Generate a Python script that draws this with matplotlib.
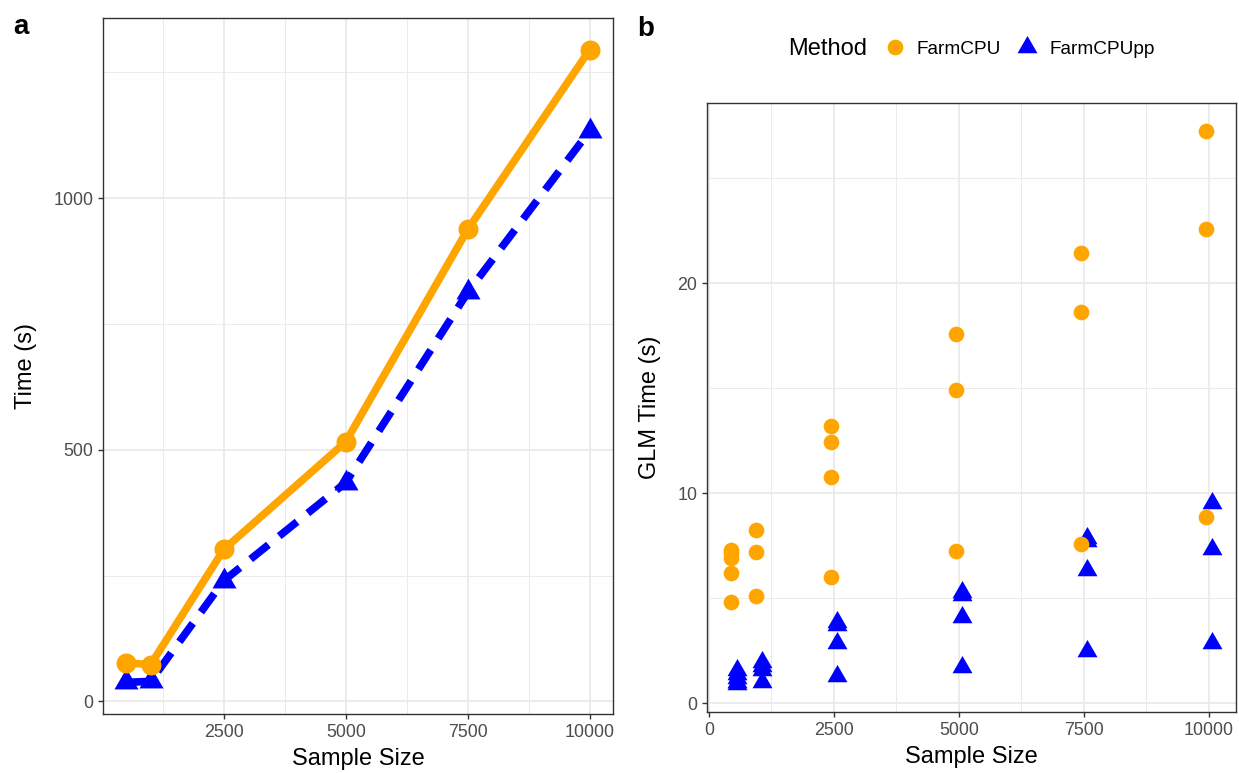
import matplotlib
matplotlib.use('Agg')
import matplotlib.pyplot as plt
from matplotlib.ticker import FixedLocator
from matplotlib.lines import Line2D

plt.rcParams['font.family'] = ['Liberation Sans', 'DejaVu Sans']

# ---------------- data ----------------
methods = ['FarmCPU', 'FarmCPUpp']
method_colors = ['#FFA500', '#0000FF']

# panel a: total run time
sample_sizes = [500, 1000, 2500, 5000, 7500, 10000]
time_farmcpu = [77, 73, 302, 516, 938, 1295]
time_farmcpupp = [38, 40, 240, 435, 813, 1134]

# panel b: GLM time (replicates per sample size)
glm_farmcpu = [
    [7.3, 7.15, 6.9, 6.2, 4.8],
    [8.25, 7.2, 5.1],
    [13.2, 12.45, 10.75, 6.0],
    [17.55, 14.9, 7.25],
    [21.45, 18.6, 7.6],
    [27.25, 22.55, 8.85],
]
glm_farmcpupp = [
    [1.6, 1.4, 1.2, 1.0, 0.9],
    [1.95, 1.75, 1.6, 1.0],
    [3.85, 3.7, 2.86, 1.3],
    [5.3, 5.15, 4.11, 1.74],
    [7.85, 7.7, 6.35, 2.5],
    [9.55, 7.35, 2.88],
]

x_ticks = [0, 2500, 5000, 7500, 10000]
x_minor = [1250, 3750, 6250, 8750]
a_yticks = [0, 500, 1000]
a_yminor = [250, 750, 1250]
b_yticks = [0, 10, 20]
b_yminor = [5, 15, 25]

# ---------------- style ----------------
W, H = 1239, 773
fig = plt.figure(figsize=(W / 100, H / 100), dpi=100)

TRI = [(0, 1), (-0.866, -0.5), (0.866, -0.5), (0, 1)]
GRID = '#EBEBEB'
BORDER = '#333333'
TICKC = '#4D4D4D'


def px_axes(l, r, t, b):
    return fig.add_axes([l / W, 1 - b / H, (r - l) / W, (b - t) / H])


def style(ax, yt, ym):
    ax.xaxis.set_major_locator(FixedLocator(x_ticks))
    ax.xaxis.set_minor_locator(FixedLocator(x_minor))
    ax.yaxis.set_major_locator(FixedLocator(yt))
    ax.yaxis.set_minor_locator(FixedLocator(ym))
    ax.grid(which='major', color=GRID, linewidth=1.3, zorder=0)
    ax.grid(which='minor', color=GRID, linewidth=0.7, zorder=0)
    ax.set_axisbelow(True)
    for s in ax.spines.values():
        s.set_color(BORDER)
        s.set_linewidth(1.0)
    ax.tick_params(which='major', length=3.6, width=1.0, color=BORDER,
                   labelsize=12.9, labelcolor=TICKC, pad=3.5)
    ax.tick_params(which='minor', length=0)


# ---------------- panel a ----------------
axa = px_axes(103, 613, 18, 714)
axa.plot(sample_sizes, time_farmcpupp, color=method_colors[1], linewidth=5.5,
         dashes=(3.0, 1.8), dash_capstyle='butt', zorder=2)
axa.plot(sample_sizes, time_farmcpu, color=method_colors[0], linewidth=5.5,
         solid_capstyle='butt', zorder=3)
axa.plot(sample_sizes, time_farmcpupp, linestyle='none', marker=TRI,
         markersize=20, color=method_colors[1], markeredgewidth=0, zorder=4)
axa.plot(sample_sizes, time_farmcpu, linestyle='none', marker='o',
         markersize=14.4, color=method_colors[0], markeredgewidth=0, zorder=5)
style(axa, a_yticks, a_yminor)
axa.set_xlabel('Sample Size', fontsize=17, labelpad=5)
axa.set_ylabel('Time (s)', fontsize=17, labelpad=11.5)

# ---------------- panel b ----------------
axb = px_axes(707, 1236, 103, 712)
offsets = [-58, 65]
for m_i, (vals, off) in enumerate([(glm_farmcpupp, offsets[1]), (glm_farmcpu, offsets[0])]):
    xs, ys = [], []
    for s, grp in zip(sample_sizes, vals):
        for v in grp:
            xs.append(s + off)
            ys.append(v)
    if m_i == 0:
        axb.plot(xs, ys, linestyle='none', marker=TRI, markersize=16.6,
                 color=method_colors[1], markeredgewidth=0, zorder=3)
    else:
        axb.plot(xs, ys, linestyle='none', marker='o', markersize=11.3,
                 color=method_colors[0], markeredgewidth=0, zorder=4)
style(axb, b_yticks, b_yminor)
axb.set_xlabel('Sample Size', fontsize=17, labelpad=5)
axb.set_ylabel('GLM Time (s)', fontsize=17, labelpad=11.5)

# ---------------- legend ----------------
fig.text(788 / W, 1 - 49 / H, 'Method', fontsize=17, ha='left', va='center')
handles = [
    Line2D([], [], linestyle='none', marker='o', markersize=11.3,
           color=method_colors[0], markeredgewidth=0),
    Line2D([], [], linestyle='none', marker=TRI, markersize=16.6,
           color=method_colors[1], markeredgewidth=0),
]
fig.legend(handles, methods, ncol=2, frameon=False, fontsize=13.7,
           loc='center left', bbox_to_anchor=(885 / W, 1 - 49 / H),
           borderpad=0, borderaxespad=0, handlelength=1.0,
           handletextpad=0.65, columnspacing=0.9)

# ---------------- tags ----------------
fig.text(13 / W, 1 - 34 / H, 'a', fontsize=20, fontweight='bold',
         ha='left', va='baseline')
fig.text(637 / W, 1 - 36 / H, 'b', fontsize=20, fontweight='bold',
         ha='left', va='baseline')

fig.savefig('out.png', dpi=100)
